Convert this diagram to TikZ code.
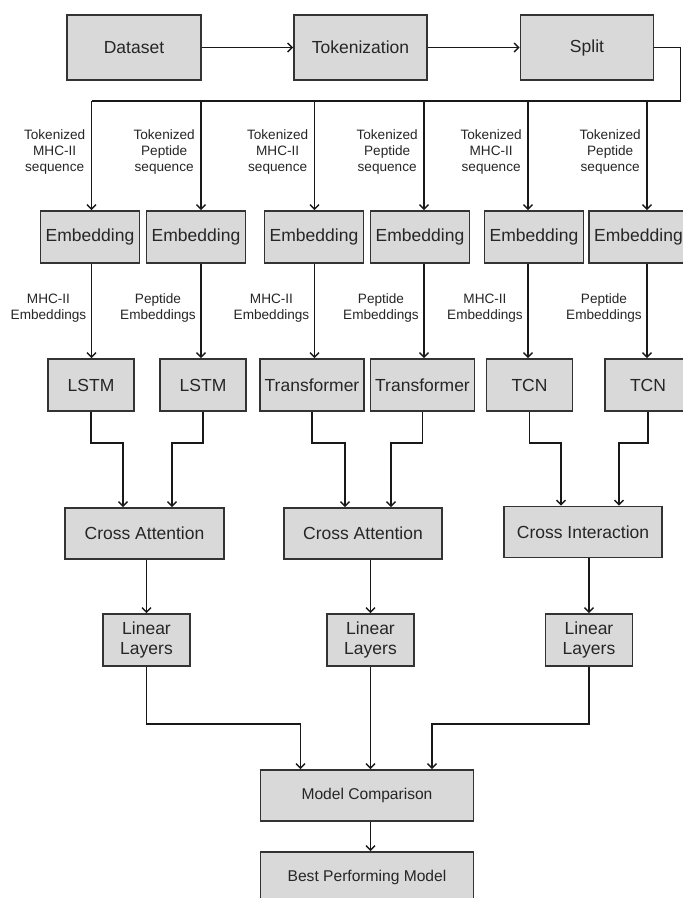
\documentclass[tikz,border=0pt]{standalone}
\usepackage{fontspec}
\setmainfont{Liberation Sans}
\usetikzlibrary{arrows.meta}

\begin{document}
\begin{tikzpicture}
            [
                x=1pt, y=-1pt,
                block/.style={draw=black!80, fill=black!15, line width=1.6pt, minimum height=52pt,
                    inner sep=1pt, align=center, text=black!85, font=\fontsize{17.5}{20}\selectfont},
                lbl/.style={anchor=east, align=center, inner sep=0pt, text=black!85,
                    font=\fontsize{13.6}{16}\selectfont},
                ->, >={Straight Barb[length=4.5pt,width=9pt]}, line width=1.4pt, black!90
            ]
            \useasboundingbox (0,0) rectangle (683,898);
            \clip (0,0) rectangle (683,898);
            \fill[white] (0,0) rectangle (683,898);

            \node [block, minimum width=134pt, minimum height=65pt] (ds) at (134,47.5) {Dataset};
            \node [block, minimum width=133pt, minimum height=65pt] (tok) at (360.5,47.5) {Tokenization};
            \node [block, minimum width=133pt, minimum height=65pt] (spl) at (587,47.5) {Split};

            \foreach \i/\x in {1/90, 2/196, 3/314, 4/420, 5/534, 6/638.5}
                \node [block, minimum width=99pt] (emb\i) at (\x,237) {Embedding};

            \node [block, minimum width=86pt] (enc1) at (91,385) {LSTM};
            \node [block, minimum width=86pt] (enc2) at (203,385) {LSTM};
            \node [block, minimum width=104pt] (enc3) at (312,385) {Transformer};
            \node [block, minimum width=104pt] (enc4) at (422.5,385) {Transformer};
            \node [block, minimum width=86pt] (enc5) at (529.5,385) {TCN};
            \node [block, minimum width=86pt] (enc6) at (648,385) {TCN};

            \node [block, minimum width=159pt, minimum height=51pt] (xatt1) at (144.5,533.5) {Cross Attention};
            \node [block, minimum width=158pt, minimum height=51pt] (xatt2) at (363,533.5) {Cross Attention};
            \node [block, minimum width=158pt, minimum height=51pt] (xint) at (583,532) {Cross Interaction};

            \node [block, minimum width=87pt] (lin1) at (146.5,640) {Linear\\Layers};
            \node [block, minimum width=87pt] (lin2) at (370.5,640) {Linear\\Layers};
            \node [block, minimum width=87pt] (lin3) at (589,640) {Linear\\Layers};

            \node [block, minimum width=213pt, minimum height=51pt, font=\fontsize{15.6}{18}\selectfont]
                (cmp) at (367,795.5) {Model Comparison};
            \node [block, minimum width=213pt, minimum height=51pt, font=\fontsize{15.6}{18}\selectfont]
                (best) at (367,877.5) {Best Performing Model};

            \draw (ds) -- (tok);
            \draw (tok) -- (spl);

            \foreach \i/\x/\kind in {1/91.5/MHC-II, 2/201/Peptide, 3/314.5/MHC-II,
                                     4/424/Peptide, 5/528/MHC-II, 6/647/Peptide} {
                \coordinate (col\i) at (\x,101);
                \draw (col\i) -- (col\i |- emb\i.north);
                \node [lbl] (tk\i) at (\x-5.5,152) {Tokenized\\\kind\\sequence};
                \draw (col\i |- emb\i.south) -- (col\i |- enc\i.north);
                \node [lbl] (em\i) at (\x-4.5,308) {\kind\\Embeddings};
            }
            \draw [-] (spl.east) -- ++(26,0) |- (col1);

            \draw (enc1.south) -- ++(0,31) -| ([xshift=-21.5pt]xatt1.north);
            \draw (enc2.south) -- ++(0,31) -| ([xshift=27.5pt]xatt1.north);
            \draw (enc3.south) -- ++(0,31) -| ([xshift=-18pt]xatt2.north);
            \draw (enc4.south) -- ++(0,31) -| ([xshift=28pt]xatt2.north);
            \draw (enc5.south) -- ++(0,31) -| ([xshift=-22pt]xint.north);
            \draw (enc6.south) -- ++(0,31) -| ([xshift=36pt]xint.north);

            \draw (xatt1.south -| lin1) -- (lin1.north);
            \draw (xatt2.south -| lin2) -- (lin2.north);
            \draw (xint.south -| lin3) -- (lin3.north);

            \draw (lin1.south) -- ++(0,57) -| ([xshift=-66.5pt]cmp.north);
            \draw (lin2.south) -- (lin2 |- cmp.north);
            \draw (lin3.south) -- ++(0,57) -| ([xshift=65pt]cmp.north);
            \draw (cmp.south -| lin2) -- (lin2 |- best.north);
        \end{tikzpicture}
\end{document}
